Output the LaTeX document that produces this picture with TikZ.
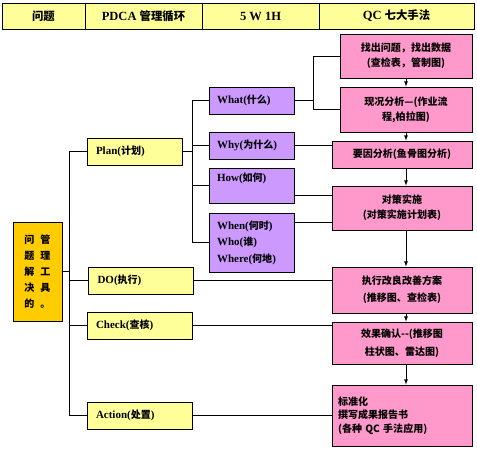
\documentclass[tikz,border=0pt]{standalone}
\usepackage{fontspec}
\setmainfont{Liberation Serif}
\newfontfamily\cjk{Noto Sans CJK SC}[Scale=0.91]
\newcommand{\zh}[1]{{\cjk #1}}
\usepackage{xcolor}
\usepackage{tikz}
\usetikzlibrary{calc,positioning}
\definecolor{headyellow}{HTML}{FFFF99}
\definecolor{toolorange}{HTML}{FFCC00}
\definecolor{whpurple}{HTML}{CC99FF}
\definecolor{qcpink}{HTML}{FF99CC}

\begin{document}
\begin{tikzpicture}[x=1pt,y=-1pt,
		box/.style={draw,line width=0.8pt,inner ysep=0pt,font=\bfseries\fontsize{11}{15}\selectfont},
		head/.style={box,fill=headyellow,minimum height=26,inner xsep=0pt,font=\bfseries\fontsize{12.5}{15}\selectfont},
		pdca/.style={box,fill=headyellow,minimum height=27,inner xsep=9pt,text width=87,align=left},
		wh/.style={box,fill=whpurple,inner xsep=8pt,text width=69,align=left,font=\bfseries\fontsize{11}{16.5}\selectfont},
		qc/.style={box,fill=qcpink,inner xsep=6pt,text width=128,align=center,font=\cjk\bfseries\fontsize{11}{15}\selectfont},
		link/.style={line width=0.8pt},
		flow/.style={link,-latex}]
		\useasboundingbox (0,0) rectangle (477,450);
		% header row
		\node[head,minimum width=83] (h1) at (43.5,16) {\zh{问题}};
		\node[head,minimum width=117] (h2) at (143.5,16) {PDCA \zh{管理循环}};
		\node[head,minimum width=117] (h3) at (260.5,16) {5 W 1H};
		\node[head,minimum width=155] (h4) at (396.5,16) {QC \zh{七大手法}};
		% problem box
		\node[box,fill=toolorange,minimum width=49,minimum height=99,align=center,
			font=\cjk\bfseries\fontsize{11}{16}\selectfont] (q) at (37.5,271.5)
			{问\hspace{6pt}管\\题\hspace{6pt}理\\解\hspace{6pt}工\\决\hspace{6pt}具\\的\hspace{6pt}。};
		% PDCA
		\node[pdca,text width=77] (plan) at (134.5,151.5) {Plan(\zh{计划})};
		\node[pdca] (do) at (141,280.5) {DO(\zh{执行})};
		\node[pdca] (check) at (139.5,325.5) {Check(\zh{查核})};
		\node[pdca] (action) at (139.5,415.5) {Action(\zh{处置})};
		% 5W1H
		\node[wh,minimum height=27] (what) at (251.5,100.5) {What(\zh{什么})};
		\node[wh,minimum height=27] (why) at (251.5,145.5) {Why(\zh{为什么})};
		\node[wh,minimum height=35] (how) at (251.5,185.5) {How(\zh{如何})\\\mbox{}};
		\node[wh,minimum height=59] (when) at (251.5,242.5) {When(\zh{何时})\\Who(\zh{谁})\\Where(\zh{何地})};
		% QC
		\node[qc,text width=120,minimum height=44] (p1) at (406,56) {找出问题，找出数据\\(查检表，管制图)};
		\node[qc,text width=120,minimum height=45] (p2) at (406,109.5) {现况分析—(作业流\\程,柏拉图)};
		\node[qc,minimum height=27] (p3) at (402,154.5) {要因分析(鱼骨图分析)};
		\node[qc,minimum height=44] (p4) at (402,208) {对策实施\\(对策实施计划表)};
		\node[qc,minimum height=46,font=\cjk\bfseries\fontsize{11}{17}\selectfont] (p5) at (402,290) {执行改良改善方案\\(推移图、查检表)};
		\node[qc,minimum height=42,font=\cjk\bfseries\fontsize{11}{18}\selectfont] (p6) at (402,343) {效果确认--(推移图\\柱状图、雷达图)};
		\node[qc,minimum height=61,align=left,font=\cjk\bfseries\fontsize{11}{13.5}\selectfont] (p7) at (402,415.5) {标准化\\撰写成果报告书\\(各种 QC 手法应用)};
		% trunks
		\coordinate (trunk) at (69,0);
		\coordinate (fork) at (192,0);
		\coordinate (split) at (313,0);
		\draw[link] (q.east) -- (q.east -| trunk);
		\draw[link] (plan.west -| trunk) -- (action.west -| trunk);
		\foreach \n in {plan,do,check,action}
			\draw[link] (\n.west -| trunk) -- (\n.west);
		\draw[link] (plan.east) -- (plan.east -| fork);
		\draw[link] (what.west -| fork) -- (when.west -| fork);
		\foreach \n in {what,why,how,when}
			\draw[link] (\n.west -| fork) -- (\n.west);
		\draw[link] (what.east) -- (what.east -| split);
		\draw[link] (p1.west -| split) -- (p2.west -| split);
		\draw[link] (p1.west -| split) -- (p1.west);
		\draw[link] (p2.west -| split) -- (p2.west);
		\draw[link] (why.east) -- (why.east -| p3.west);
		\draw[link] ([yshift=-10pt]how.east) -- ([yshift=-10pt]how.east -| p4.west);
		\draw[link] ([yshift=20pt]when.east) -- ([yshift=20pt]when.east -| p4.west);
		\draw[link] (do.east) -- (do.east -| p5.west);
		\draw[link] (check.east) -- (check.east -| p6.west);
		\draw[link] (action.east) -- (action.east -| p7.west);
		% QC flow
		\draw[flow] (p1.south) -- (p2.north);
		\draw[flow] (p2.south) -- (p3.north -| p2.south);
		\draw[flow] (p3.south -| p1.south) -- (p4.north -| p1.south);
		\draw[flow] (p4.south -| p1.south) -- (p5.north -| p1.south);
		\draw[flow] (p5.south -| p1.south) -- (p6.north -| p1.south);
		\draw[flow] (p6.south -| p1.south) -- (p7.north -| p1.south);
	\end{tikzpicture}
\end{document}
